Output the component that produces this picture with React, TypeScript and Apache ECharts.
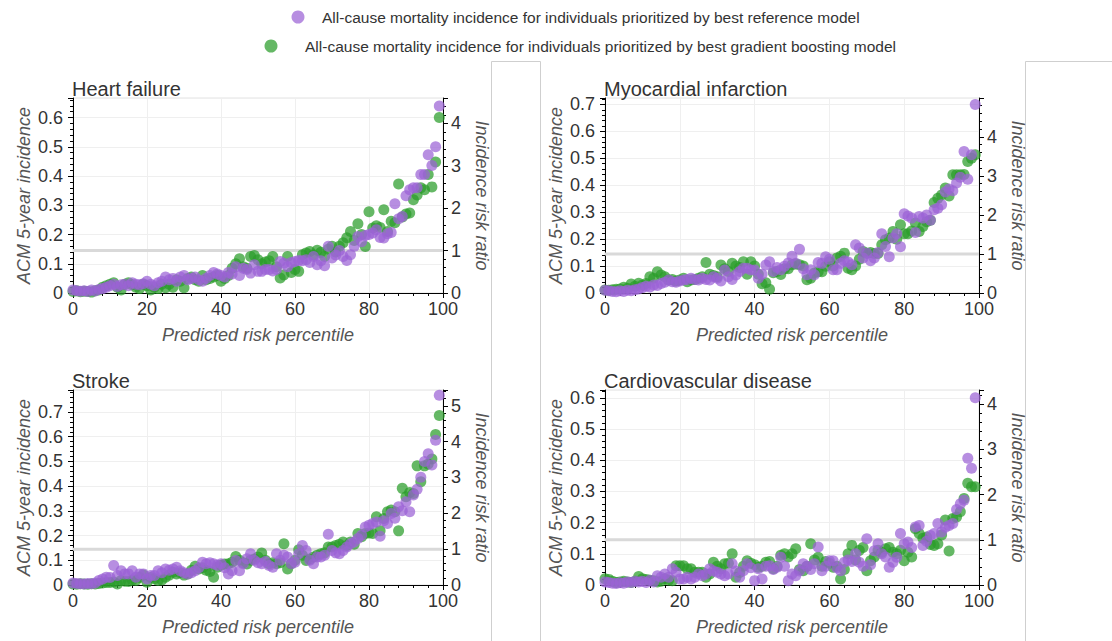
import React, { useEffect, useRef } from "react";
import * as echarts from "echarts";

// ---------- data ----------
const percentiles: number[] = Array.from({ length: 100 }, (_, i) => i);

const panelTitles = ["Heart failure", "Myocardial infarction", "Stroke", "Cardiovascular disease"];
const refName = "All-cause mortality incidence for individuals prioritized by best reference model";
const gbName = "All-cause mortality incidence for individuals prioritized by best gradient boosting model";

const xTicks = [0, 20, 40, 60, 80, 100];
const baselineIncidence = 0.145; // incidence corresponding to risk ratio 1
const riskRatioLine = [1, 1];
const incidenceMax = [0.667, 0.724, 0.789, 0.625];

const hfRef = [
  0.01, 0.008, 0.006, 0.008, 0.005, 0.01, 0.007, 0.012, 0.015, 0.02,
  0.025, 0.03, 0.022, 0.028, 0.03, 0.025, 0.035, 0.03, 0.028, 0.032,
  0.04, 0.03, 0.025, 0.035, 0.04, 0.055, 0.045, 0.05, 0.04, 0.055,
  0.06, 0.045, 0.05, 0.055, 0.045, 0.04, 0.05, 0.06, 0.07, 0.065,
  0.06, 0.055, 0.07, 0.065, 0.09, 0.06, 0.085, 0.08, 0.068, 0.097,
  0.074, 0.074, 0.08, 0.08, 0.075, 0.08, 0.108, 0.102, 0.09, 0.104,
  0.108, 0.111, 0.11, 0.114, 0.104, 0.125, 0.097, 0.11, 0.093, 0.16,
  0.12, 0.13, 0.145, 0.125, 0.111, 0.131, 0.16, 0.193, 0.175, 0.197,
  0.2, 0.205, 0.216, 0.19, 0.188, 0.203, 0.207, 0.305, 0.254, 0.262,
  0.333, 0.353, 0.36, 0.36, 0.405, 0.405, 0.473, 0.436, 0.5, 0.64,
];
const hfGb = [
  0.005, 0.008, 0.004, 0.006, 0.005, 0.003, 0.008, 0.01, 0.02, 0.025,
  0.03, 0.035, 0.02, 0.01, 0.03, 0.035, 0.028, 0.02, 0.015, 0.03,
  0.025, 0.01, 0.02, 0.015, 0.03, 0.018, 0.03, 0.02, 0.045, 0.04,
  0.018, 0.05, 0.055, 0.045, 0.04, 0.06, 0.045, 0.05, 0.055, 0.06,
  0.04, 0.05, 0.06, 0.085, 0.1, 0.117, 0.09, 0.085, 0.125, 0.128,
  0.114, 0.1, 0.106, 0.11, 0.125, 0.09, 0.051, 0.062, 0.125, 0.07,
  0.08, 0.074, 0.131, 0.137, 0.142, 0.13, 0.146, 0.139, 0.125, 0.15,
  0.16, 0.14, 0.16, 0.172, 0.189, 0.21, 0.18, 0.237, 0.2, 0.159,
  0.278, 0.222, 0.23, 0.224, 0.285, 0.21, 0.245, 0.24, 0.373, 0.26,
  0.27, 0.274, 0.319, 0.335, 0.36, 0.353, 0.405, 0.363, 0.448, 0.6,
];

const miRef = [
  0.01, 0.008, 0.006, 0.005, 0.008, 0.006, 0.01, 0.008, 0.012, 0.015,
  0.02, 0.025, 0.022, 0.03, 0.028, 0.035, 0.04, 0.048, 0.042, 0.04,
  0.045, 0.048, 0.05, 0.055, 0.05, 0.048, 0.055, 0.05, 0.048, 0.06,
  0.055, 0.045, 0.085, 0.06, 0.05, 0.067, 0.08, 0.092, 0.092, 0.085,
  0.085, 0.055, 0.07, 0.104, 0.116, 0.08, 0.095, 0.086, 0.099, 0.111,
  0.136, 0.11, 0.162, 0.09, 0.068, 0.086, 0.068, 0.113, 0.11, 0.135,
  0.125, 0.086, 0.086, 0.11, 0.12, 0.115, 0.105, 0.179, 0.167, 0.13,
  0.148, 0.12, 0.13, 0.15, 0.22, 0.173, 0.135, 0.204, 0.22, 0.172,
  0.294, 0.286, 0.278, 0.225, 0.284, 0.278, 0.29, 0.27, 0.309, 0.315,
  0.328, 0.375, 0.386, 0.38, 0.408, 0.43, 0.525, 0.422, 0.513, 0.7,
];
const miGb = [
  0.011, 0.01, 0.012, 0.014, 0.015, 0.021, 0.018, 0.033, 0.025, 0.036,
  0.03, 0.035, 0.06, 0.055, 0.079, 0.067, 0.06, 0.048, 0.05, 0.045,
  0.048, 0.055, 0.042, 0.048, 0.05, 0.055, 0.06, 0.113, 0.07, 0.065,
  0.06, 0.104, 0.09, 0.08, 0.11, 0.1, 0.095, 0.116, 0.07, 0.116,
  0.1, 0.07, 0.034, 0.038, 0.014, 0.075, 0.08, 0.069, 0.09, 0.09,
  0.105, 0.108, 0.105, 0.1, 0.049, 0.055, 0.074, 0.079, 0.079, 0.099,
  0.116, 0.1, 0.13, 0.136, 0.148, 0.092, 0.086, 0.1, 0.125, 0.154,
  0.148, 0.15, 0.147, 0.147, 0.179, 0.198, 0.204, 0.228, 0.2, 0.253,
  0.22, 0.22, 0.23, 0.26, 0.228, 0.247, 0.265, 0.27, 0.336, 0.352,
  0.364, 0.39, 0.36, 0.439, 0.439, 0.439, 0.44, 0.488, 0.5, 0.513,
];

const strokeRef = [
  0.008, 0.006, 0.005, 0.004, 0.006, 0.005, 0.008, 0.018, 0.024, 0.031,
  0.03, 0.079, 0.038, 0.058, 0.045, 0.045, 0.058, 0.031, 0.045, 0.045,
  0.024, 0.038, 0.038, 0.058, 0.05, 0.065, 0.06, 0.065, 0.072, 0.058,
  0.05, 0.045, 0.05, 0.058, 0.07, 0.092, 0.086, 0.09, 0.086, 0.08,
  0.086, 0.07, 0.045, 0.058, 0.099, 0.058, 0.086, 0.106, 0.126, 0.1,
  0.09, 0.086, 0.095, 0.079, 0.072, 0.126, 0.1, 0.12, 0.113, 0.086,
  0.092, 0.126, 0.16, 0.14, 0.1, 0.086, 0.113, 0.113, 0.12, 0.205,
  0.14, 0.13, 0.126, 0.14, 0.154, 0.167, 0.174, 0.188, 0.201, 0.235,
  0.242, 0.249, 0.255, 0.197, 0.26, 0.249, 0.289, 0.27, 0.317, 0.3,
  0.337, 0.296, 0.364, 0.387, 0.436, 0.5, 0.531, 0.486, 0.586, 0.768,
];
const strokeGb = [
  0.004, 0.003, 0.005, 0.004, 0.003, 0.005, 0.004, 0.006, 0.008, 0.01,
  0.01, 0.012, 0.004, 0.018, 0.015, 0.014, 0.02, 0.018, 0.03, 0.04,
  0.011, 0.03, 0.025, 0.018, 0.02, 0.031, 0.04, 0.052, 0.045, 0.05,
  0.04, 0.045, 0.06, 0.076, 0.065, 0.07, 0.06, 0.055, 0.031, 0.072,
  0.08, 0.085, 0.086, 0.092, 0.115, 0.1, 0.09, 0.085, 0.1, 0.105,
  0.113, 0.129, 0.1, 0.086, 0.09, 0.086, 0.09, 0.167, 0.065, 0.086,
  0.1, 0.143, 0.12, 0.099, 0.105, 0.113, 0.12, 0.126, 0.13, 0.154,
  0.154, 0.16, 0.165, 0.174, 0.16, 0.174, 0.165, 0.208, 0.195, 0.208,
  0.21, 0.208, 0.276, 0.22, 0.269, 0.296, 0.303, 0.296, 0.219, 0.391,
  0.357, 0.374, 0.37, 0.482, 0.418, 0.482, 0.49, 0.51, 0.609, 0.686,
];

const cvdRef = [
  0.01, 0.008, 0.006, 0.005, 0.007, 0.006, 0.01, 0.008, 0.012, 0.01,
  0.012, 0.008, 0.015, 0.01, 0.03, 0.025, 0.035, 0.025, 0.052, 0.041,
  0.019, 0.019, 0.025, 0.019, 0.025, 0.035, 0.03, 0.035, 0.052, 0.045,
  0.041, 0.035, 0.03, 0.035, 0.068, 0.045, 0.025, 0.046, 0.068, 0.055,
  0.014, 0.052, 0.019, 0.06, 0.062, 0.05, 0.057, 0.089, 0.06, 0.014,
  0.035, 0.03, 0.045, 0.068, 0.06, 0.05, 0.068, 0.122, 0.046, 0.06,
  0.078, 0.078, 0.055, 0.046, 0.073, 0.08, 0.075, 0.1, 0.073, 0.06,
  0.148, 0.065, 0.11, 0.132, 0.1, 0.09, 0.057, 0.073, 0.089, 0.165,
  0.132, 0.138, 0.12, 0.186, 0.191, 0.127, 0.14, 0.159, 0.165, 0.197,
  0.17, 0.185, 0.191, 0.197, 0.242, 0.26, 0.272, 0.406, 0.374, 0.6,
];
const cvdGb = [
  0.02, 0.018, 0.012, 0.008, 0.01, 0.012, 0.01, 0.008, 0.012, 0.027,
  0.02, 0.018, 0.015, 0.014, 0.01, 0.012, 0.02, 0.015, 0.014, 0.062,
  0.062, 0.062, 0.052, 0.052, 0.041, 0.041, 0.041, 0.025, 0.035, 0.073,
  0.06, 0.052, 0.068, 0.07, 0.1, 0.025, 0.04, 0.06, 0.078, 0.07,
  0.065, 0.057, 0.06, 0.073, 0.075, 0.052, 0.06, 0.095, 0.1, 0.09,
  0.1, 0.116, 0.05, 0.046, 0.06, 0.132, 0.08, 0.089, 0.06, 0.075,
  0.07, 0.057, 0.06, 0.019, 0.05, 0.1, 0.127, 0.08, 0.111, 0.12,
  0.046, 0.078, 0.09, 0.111, 0.105, 0.116, 0.12, 0.105, 0.1, 0.111,
  0.078, 0.105, 0.09, 0.18, 0.165, 0.15, 0.154, 0.13, 0.127, 0.132,
  0.16, 0.208, 0.109, 0.213, 0.218, 0.235, 0.277, 0.326, 0.315, 0.315,
];

const refSeries = [hfRef, miRef, strokeRef, cvdRef];
const gbSeries = [hfGb, miGb, strokeGb, cvdGb];

// ---------- style ----------
const FONT = "'Liberation Sans', Arial, Helvetica, sans-serif";
const PURPLE = "#9b63d6";
const GREEN = "#2a9d2a";
const grids = [
  { left: 73, top: 98, width: 370, height: 195 },
  { left: 605, top: 98, width: 374, height: 195 },
  { left: 73, top: 390, width: 370, height: 195 },
  { left: 605, top: 390, width: 374, height: 195 },
];

function fmt(v: number) {
  return String(Math.round(v * 10) / 10);
}

export default function App() {
  const ref = useRef<HTMLDivElement>(null);
  useEffect(() => {
    document.body.style.margin = "0";
    if (!ref.current) return;
    const chart = echarts.init(ref.current, null, { renderer: "svg" });

    const labelStyle = { color: "#333", fontSize: 18, fontFamily: FONT };
    const nameStyle = { color: "#555", fontSize: 18, fontStyle: "italic" as const, fontFamily: FONT };
    const axisLine = { show: true, lineStyle: { color: "#000", width: 1 } };
    const axisTick = { show: true, length: 5, lineStyle: { color: "#000" } };
    const minorTick = { show: true, splitNumber: 5, length: 3, lineStyle: { color: "#000" } };

    const xAxis: any[] = [];
    const yAxis: any[] = [];
    const series: any[] = [];
    const title: any[] = [];

    grids.forEach((g, i) => {
      title.push({
        text: panelTitles[i],
        left: g.left - 1,
        top: g.top - 19,
        padding: 0,
        textStyle: { fontSize: 20, fontWeight: "normal", color: "#333", fontFamily: FONT },
      });
      xAxis.push({
        type: "value",
        gridIndex: i,
        min: xTicks[0],
        max: xTicks[xTicks.length - 1],
        interval: xTicks[1] - xTicks[0],
        name: "Predicted risk percentile",
        nameLocation: "middle",
        nameGap: 33,
        nameTextStyle: nameStyle,
        axisLine,
        axisTick,
        minorTick,
        axisLabel: { ...labelStyle, margin: 8, lineHeight: 16 },
        splitLine: { show: true, lineStyle: { color: "#efefef" } },
      });
      yAxis.push({
        type: "value",
        gridIndex: i,
        position: "left",
        min: 0,
        max: incidenceMax[i],
        interval: 0.1,
        name: "ACM 5-year incidence",
        nameLocation: "middle",
        nameGap: 40,
        nameTextStyle: nameStyle,
        axisLine,
        axisTick,
        minorTick,
        axisLabel: { ...labelStyle, margin: 10, showMaxLabel: false, formatter: (v: number) => fmt(v) },
        splitLine: { show: true, lineStyle: { color: "#efefef" } },
      });
      yAxis.push({
        type: "value",
        gridIndex: i,
        position: "right",
        min: 0,
        max: incidenceMax[i] / baselineIncidence,
        interval: 1,
        name: "Incidence risk ratio",
        nameLocation: "middle",
        nameRotate: -90,
        nameGap: 30,
        nameTextStyle: nameStyle,
        axisLine,
        axisTick,
        minorTick,
        axisLabel: {
          ...labelStyle,
          margin: 8,
          lineHeight: 16,
          padding: [0, 0, 3, 0],
          showMaxLabel: false,
          formatter: (v: number) => String(Math.round(v)),
        },
        splitLine: { show: false },
      });
      series.push({
        type: "line",
        xAxisIndex: i,
        yAxisIndex: 2 * i + 1,
        data: [
          [xTicks[0], riskRatioLine[0]],
          [xTicks[xTicks.length - 1], riskRatioLine[1]],
        ],
        symbol: "none",
        silent: true,
        lineStyle: { color: "#d9d9d9", width: 3 },
        z: 1,
      });
      series.push({
        type: "scatter",
        name: gbName,
        xAxisIndex: i,
        yAxisIndex: 2 * i,
        data: percentiles.map((p, j) => [p, gbSeries[i][j]]),
        symbolSize: 11,
        itemStyle: { color: GREEN, opacity: 0.72 },
        z: 3,
      });
      series.push({
        type: "scatter",
        name: refName,
        xAxisIndex: i,
        yAxisIndex: 2 * i,
        data: percentiles.map((p, j) => [p, refSeries[i][j]]),
        symbolSize: 11,
        itemStyle: { color: PURPLE, opacity: 0.72 },
        z: 4,
      });
    });

    chart.setOption({
      animation: false,
      backgroundColor: "#fff",
      title,
      grid: grids.map((g) => ({
        ...g,
        show: true,
        borderColor: "#e2e2e2",
        borderWidth: 1,
        backgroundColor: "transparent",
      })),
      xAxis,
      yAxis,
      series,
      graphic: [
        { type: "circle", shape: { cx: 298, cy: 17, r: 6.5 }, style: { fill: PURPLE, opacity: 0.72 } },
        {
          type: "text",
          x: 322,
          y: 17,
          style: { text: refName, fill: "#333", fontSize: 15.5, fontFamily: FONT, verticalAlign: "middle" },
        },
        { type: "circle", shape: { cx: 271, cy: 46, r: 6.5 }, style: { fill: GREEN, opacity: 0.72 } },
        {
          type: "text",
          x: 305,
          y: 46,
          style: { text: gbName, fill: "#333", fontSize: 15.5, fontFamily: FONT, verticalAlign: "middle" },
        },
        {
          type: "rect",
          shape: { x: 491.5, y: 61.5, width: 49, height: 620 },
          style: { fill: "none", stroke: "#cfcfcf", lineWidth: 1 },
        },
        {
          type: "rect",
          shape: { x: 1025.5, y: 61.5, width: 200, height: 620 },
          style: { fill: "none", stroke: "#cfcfcf", lineWidth: 1 },
        },
      ],
    });
    return () => chart.dispose();
  }, []);
  return <div ref={ref} style={{ position: "absolute", left: 0, top: 0, width: 1112, height: 641 }} />;
}
